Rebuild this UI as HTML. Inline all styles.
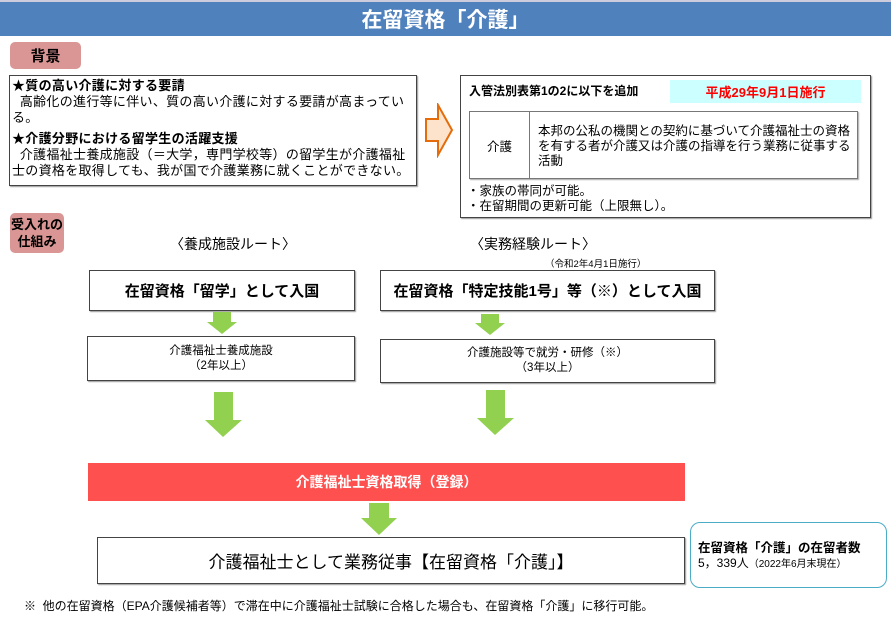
<!DOCTYPE html>
<html><head><meta charset="utf-8"><style>
*{margin:0;padding:0;box-sizing:border-box}
body{width:891px;height:621px;background:#fff;position:relative;overflow:hidden;font-family:"Liberation Sans","Noto Sans CJK JP",sans-serif;color:#000}
.a{position:absolute}
.box{position:absolute;border:1px solid #444;background:#fff;box-shadow:1px 1px 1px #999}
.c{display:flex;align-items:center;justify-content:center;text-align:center}
.lbl{position:absolute;background:#d99694;border-radius:5px;font-weight:bold;font-size:15px}
</style></head><body>
<div class="a c" style="left:0;top:0;width:891px;height:36px;background:#4f81bd;color:#fff;font-weight:bold;font-size:21px;border-top:2px solid #ccd">在留資格「介護」</div>

<div class="lbl c" style="left:10px;top:42px;width:71px;height:27px">背景</div>
<div class="box" style="left:9px;top:75px;width:408px;height:111px;padding:2px 6px 2px 2px;font-size:13px;line-height:16px;letter-spacing:0.3px">
<b>★質の高い介護に対する要請</b><br>&nbsp;&nbsp;高齢化の進行等に伴い、質の高い介護に対する要請が高まっている。<br><div style="height:5px"></div>
<b>★介護分野における留学生の活躍支援</b><br>&nbsp;&nbsp;介護福祉士養成施設（＝大学，専門学校等）の留学生が介護福祉士の資格を取得しても、我が国で介護業務に就くことができない。
</div>

<svg class="a" style="left:424px;top:103px" width="30" height="55"><polygon points="2,16 14,16 14,2 28,27 14,52 14,38 2,38" fill="#fde3cc" stroke="#e46c0a" stroke-width="2"/></svg>

<div class="box" style="left:460px;top:75px;width:411px;height:143px;font-size:12.5px">
<div class="a" style="left:8px;top:6px;font-weight:bold;font-size:12px">入管法別表第1の2に以下を追加</div>
<div class="a c" style="left:209px;top:4px;width:191px;height:23px;background:#ccffff;color:#ff0000;font-weight:bold;font-size:13px">平成29年9月1日施行</div>
<div class="a" style="left:8px;top:35px;width:389px;height:68px;border:1px solid #777;box-shadow:1px 1px 1px #aaa">
<div class="a c" style="left:0;top:0;width:60px;height:66px;border-right:1px solid #777">介護</div>
<div class="a" style="left:68px;top:12px;width:316px;line-height:15px">本邦の公私の機関との契約に基づいて介護福祉士の資格を有する者が介護又は介護の指導を行う業務に従事する活動</div>
</div>
<div class="a" style="left:6px;top:108px;line-height:15px">・家族の帯同が可能。<br>・在留期間の更新可能（上限無し）。</div>
</div>

<div class="lbl c" style="left:10px;top:213px;width:54px;height:40px;font-size:13px;line-height:17px;white-space:nowrap">受入れの<br>仕組み</div>
<div class="a" style="left:170px;top:234px;font-size:14px">〈養成施設ルート〉</div>
<div class="a" style="left:470px;top:234px;font-size:14px">〈実務経験ルート〉</div>
<div class="a" style="left:545px;top:256px;font-size:9.5px">（令和2年4月1日施行）</div>

<div class="box c" style="left:89px;top:270px;width:266px;height:41px;font-size:15px;font-weight:bold">在留資格「留学」として入国</div>
<div class="box c" style="left:380px;top:270px;width:335px;height:41px;font-size:15px;font-weight:bold">在留資格「特定技能1号」等（※）として入国</div>
<div class="box c" style="left:87px;top:336px;width:268px;height:45px;font-size:11.5px;line-height:15px">介護福祉士養成施設<br>（2年以上）</div>
<div class="box c" style="left:380px;top:339px;width:335px;height:44px;font-size:11.5px;line-height:15px">介護施設等で就労・研修（※）<br>（3年以上）</div>

<svg class="a" style="left:0;top:0" width="891" height="621">
<g fill="#92d050">
<polygon points="213,312 231,312 231,322 237,322 222,334 207,322 213,322"/>
<polygon points="481,314 499,314 499,323 505,323 490,335 475,323 481,323"/>
<polygon points="214,392 233,392 233,420 242,420 223,437 205,420 214,420"/>
<polygon points="486,390 505,390 505,418 514,418 495,435 477,418 486,418"/>
<polygon points="369,503 389,503 389,518 397,518 379,535 361,518 369,518"/>
</g></svg>

<div class="a c" style="left:88px;top:463px;width:597px;height:38px;background:#ff5050;color:#fff;font-weight:bold;font-size:14px">介護福祉士資格取得（登録）</div>
<div class="box c" style="left:97px;top:537px;width:588px;height:47px;font-size:17px">介護福祉士として業務従事【在留資格「介護」】</div>
<div class="a" style="left:690px;top:522px;width:197px;height:66px;border:1.5px solid #4bacc6;border-radius:10px"></div>
<div class="a" style="left:698px;top:537px;font-size:12.5px;font-weight:bold">在留資格「介護」の在留者数</div>
<div class="a" style="left:698px;top:554px;font-size:12px">5，339人<span style="font-size:10px">（2022年6月末現在）</span></div>
<div class="a" style="left:24px;top:597px;font-size:12px">※&nbsp;&nbsp;他の在留資格（EPA介護候補者等）で滞在中に介護福祉士試験に合格した場合も、在留資格「介護」に移行可能。</div>
</body></html>
